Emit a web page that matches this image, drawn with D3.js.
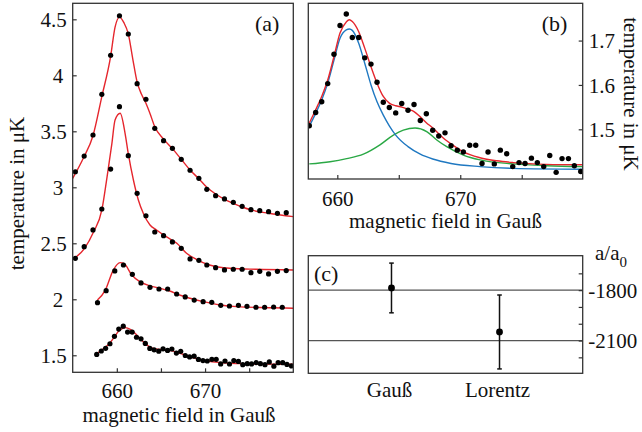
<!DOCTYPE html>
<html><head><meta charset="utf-8">
<script src="https://cdn.jsdelivr.net/npm/d3@7"></script>
<style>
html,body{margin:0;padding:0;background:#fff;}
svg text{font-family:"Liberation Serif","Times New Roman",serif;fill:#111;}
</style></head><body>
<svg id="chart" width="642" height="432"></svg>
<script>
// ---------- Panel (a): measured points ----------
const fieldTop = [655.3,656.3,657.3,658.3,659.3,660.3,661.3,662.3,663.3,664.3,665.3,666.3,667.3,668.3,669.3,670.2,671.2,672.2,673.2,674.2,675.2,676.2,677.2,678.2,679.2];
const tempTop  = [3.139,3.279,3.467,3.830,4.179,4.532,4.369,3.925,3.786,3.527,3.416,3.348,3.250,3.152,3.080,2.982,2.925,2.896,2.866,2.830,2.800,2.791,2.782,2.768,2.773];
const tempSecond = [2.366,2.470,2.619,2.806,3.163,3.720,3.282,2.946,2.746,2.601,2.568,2.512,2.455,2.360,2.348,2.306,2.282,2.262,2.268,2.268,2.238,2.250,2.226,2.250,2.256];
const fieldThird = [657.81,658.79,659.77,660.75,661.76,662.74,663.76,664.78,665.76,666.78,667.75,668.77,669.78,670.76,671.78,672.76,673.78,674.75,675.77,676.75,677.77,678.75];
const tempThird  = [1.970,2.077,2.253,2.306,2.223,2.146,2.107,2.092,2.092,2.047,2.021,1.993,1.979,1.973,1.946,1.940,1.946,1.937,1.929,1.929,1.931,1.929];
// bottom series (also shown enlarged in panel b)
const fieldLow = [657.72,658.24,658.73,659.22,659.73,660.22,660.73,661.22,661.74,662.23,662.74,663.23,663.74,664.23,664.75,665.24,665.75,666.24,666.75,667.24,667.76,668.25,668.76,669.25,669.76,670.25,670.77,671.26,671.77,672.26,672.77,673.26,673.78,674.27,674.78,675.27,675.79,676.27,676.79,677.28,677.80,678.28,678.80,679.28,679.80];
const tempLow  = [1.508,1.538,1.562,1.603,1.669,1.734,1.760,1.707,1.707,1.661,1.647,1.606,1.561,1.549,1.537,1.558,1.543,1.556,1.520,1.535,1.498,1.485,1.492,1.463,1.453,1.449,1.464,1.464,1.423,1.449,1.422,1.453,1.445,1.416,1.425,1.423,1.435,1.425,1.416,1.441,1.403,1.434,1.434,1.418,1.405];

// ---------- fitted curves ----------
const fitTopX = [655.0,656.2,657.3,658.3,659.3,659.8,660.3,660.8,661.3,661.8,662.3,662.8,663.3,663.8,664.3,665.3,666.3,667.3,668.3,669.3,670.2,671.2,672.2,673.2,674.2,675.2,677.2,680.0];
const fitTopY = [3.08,3.26,3.46,3.81,4.17,4.43,4.52,4.47,4.37,4.15,3.94,3.83,3.75,3.65,3.54,3.43,3.345,3.25,3.154,3.076,3.0,2.94,2.893,2.856,2.824,2.798,2.768,2.738];
const fitSecondX = [655.0,656.3,657.36,658.31,658.87,659.44,659.8,660.38,660.94,661.3,661.88,662.44,663.0,663.76,664.5,665.6,666.8,667.9,669.0,670.5,672.8,675.8,680.0];
const fitSecondY = [2.357,2.45,2.60,2.80,3.08,3.39,3.60,3.661,3.48,3.30,3.065,2.887,2.768,2.663,2.619,2.559,2.50,2.411,2.357,2.306,2.277,2.268,2.262];
const fitThirdX = [657.8,658.7,659.6,660.37,660.8,661.7,662.6,663.8,664.9,666.0,667.1,668.3,669.8,671.7,673.6,677.3,680.0];
const fitThirdY = [1.993,2.082,2.261,2.327,2.32,2.217,2.157,2.119,2.098,2.074,2.038,2.009,1.979,1.949,1.934,1.925,1.920];
const fitLowX = [657.72,658.24,658.73,659.22,659.73,660.22,660.73,660.98,661.22,661.74,662.23,662.74,663.23,663.74,664.23,664.75,665.24,665.75,666.24,666.75,667.24,667.76,668.25,668.76,669.25,670.25,671.6,672.97,674.3,677.0,679.96];
const fitLowY = [1.514,1.544,1.574,1.611,1.664,1.717,1.742,1.747,1.743,1.720,1.683,1.641,1.604,1.574,1.559,1.553,1.550,1.545,1.540,1.528,1.515,1.503,1.490,1.477,1.467,1.449,1.436,1.429,1.425,1.421,1.420];
const peak1X = [657.72,658.24,658.73,659.22,659.73,660.22,660.73,660.98,661.22,661.74,662.23,662.74,663.23,663.74,664.23,664.75,665.75,666.75,667.76,669.25,671.6,674.3,679.96];
const peak1Y = [1.507,1.536,1.566,1.604,1.656,1.705,1.724,1.726,1.723,1.694,1.649,1.600,1.562,1.532,1.508,1.487,1.461,1.444,1.433,1.423,1.416,1.412,1.410];
const peak2X = [657.72,659.41,660.76,662.12,663.47,664.56,665.37,666.32,667.27,668.09,668.90,670.25,671.61,674.32,677.04,679.96];
const peak2Y = [1.422,1.427,1.434,1.444,1.465,1.487,1.498,1.503,1.495,1.476,1.461,1.442,1.431,1.422,1.418,1.416];

// ---------- ticks ----------
const fieldTicks = [660,665,670,675];
const fieldLabels = [660,670];
const tempTicksA = [1.5,2,2.5,3,3.5,4,4.5];
const tempTicksB = [1.5,1.6,1.7];

// ---------- Panel (c) ----------
const fitModels = ["Gauß","Lorentz"];
const scatLen = [-1787,-2049];
const scatErr = [148,220];
const scatTicks = [-1700,-1800,-1900,-2000,-2100,-2200];
const scatLabels = [-1800,-2100];
const refLines = [-1800,-2100];

const RED = "#e5262d", BLUE = "#1f78c1", GREEN = "#2aa845", FRAME = "#333";
const FS = 21;
const svg = d3.select("#chart");
const zip = (a,b) => a.map((v,i)=>[v,b[i]]);

function frame(g, P){
  g.append("rect").attr("x",P.l).attr("y",P.t).attr("width",P.r-P.l).attr("height",P.b-P.t)
   .attr("fill","none").attr("stroke",FRAME).attr("stroke-width",1.3);
}
function clip(id,P){
  svg.append("clipPath").attr("id",id).append("rect")
    .attr("x",P.l).attr("y",P.t).attr("width",P.r-P.l).attr("height",P.b-P.t);
}
function styleAxis(g){
  g.select(".domain").remove();
  g.selectAll(".tick line").attr("stroke",FRAME).attr("stroke-width",1.2);
  g.selectAll("text").attr("font-size",FS).attr("font-family",'"Liberation Serif",serif').attr("fill","#111");
}

// ===== Panel (a) =====
const A = {l:72.7, r:293.3, t:3.3, b:372.3};
const xA = d3.scaleLinear().domain([655,680]).range([A.l,A.r]);
const yA = d3.scaleLinear().domain([1.348,4.643]).range([A.b,A.t]);
clip("clipA",A);
const gA = svg.append("g");
const lineA = d3.line().x(d=>xA(d[0])).y(d=>yA(d[1])).curve(d3.curveMonotoneX);
const pA = gA.append("g").attr("clip-path","url(#clipA)");
[[fitTopX,fitTopY],[fitSecondX,fitSecondY],[fitThirdX,fitThirdY],[fitLowX,fitLowY]].forEach(([x,y])=>{
  pA.append("path").attr("d",lineA(zip(x,y))).attr("fill","none").attr("stroke",RED).attr("stroke-width",1.4);
});
[[fieldTop,tempTop],[fieldTop,tempSecond],[fieldThird,tempThird],[fieldLow,tempLow]].forEach(([x,y])=>{
  pA.append("g").selectAll("circle").data(zip(x,y)).join("circle")
    .attr("cx",d=>xA(d[0])).attr("cy",d=>yA(d[1])).attr("r",2.6).attr("fill","#000");
});
frame(gA,A);
const axAx = gA.append("g").attr("transform",`translate(0,${A.b})`)
  .call(d3.axisBottom(xA).tickValues(fieldTicks).tickSize(-4).tickFormat(d=>fieldLabels.includes(d)?d:""));
styleAxis(axAx);
axAx.selectAll("text").attr("y",26).attr("dy",null);
const axAy = gA.append("g").attr("transform",`translate(${A.l},0)`)
  .call(d3.axisLeft(yA).tickValues(tempTicksA).tickSize(-4).tickFormat(d=>String(d)));
styleAxis(axAy);
axAy.selectAll("text").attr("x",d=>Number.isInteger(d)?-9.5:-6).attr("dy","0.34em");
gA.append("text").attr("x",179).attr("y",421.7).attr("text-anchor","middle").attr("font-size",FS).text("magnetic field in Gauß");
gA.append("text").attr("transform","translate(24,193.5) rotate(-90)").attr("text-anchor","middle").attr("font-size",FS).text("temperature in μK");
gA.append("text").attr("x",255).attr("y",31).attr("font-size",22).text("(a)");

// ===== Panel (b) =====
const B = {l:308.3, r:582.7, t:3.3, b:179};
const xB = d3.scaleLinear().domain([657.64,679.96]).range([B.l,B.r]);
const yB = d3.scaleLinear().domain([1.388,1.784]).range([B.b,B.t]);
clip("clipB",B);
const gB = svg.append("g");
const lineB = d3.line().x(d=>xB(d[0])).y(d=>yB(d[1])).curve(d3.curveMonotoneX);
const pB = gB.append("g").attr("clip-path","url(#clipB)");
pB.append("path").attr("d",lineB(zip(peak2X,peak2Y))).attr("fill","none").attr("stroke",GREEN).attr("stroke-width",1.4);
pB.append("path").attr("d",lineB(zip(peak1X,peak1Y))).attr("fill","none").attr("stroke",BLUE).attr("stroke-width",1.4);
pB.append("path").attr("d",lineB(zip(fitLowX,fitLowY))).attr("fill","none").attr("stroke",RED).attr("stroke-width",1.4);
pB.append("g").selectAll("circle").data(zip(fieldLow,tempLow)).join("circle")
  .attr("cx",d=>xB(d[0])).attr("cy",d=>yB(d[1])).attr("r",2.7).attr("fill","#000");
frame(gB,B);
const axBx = gB.append("g").attr("transform",`translate(0,${B.b})`)
  .call(d3.axisBottom(xB).tickValues(fieldTicks).tickSize(-4).tickFormat(d=>fieldLabels.includes(d)?d:""));
styleAxis(axBx);
axBx.selectAll("text").attr("y",26.5).attr("dy",null);
const axBy = gB.append("g").attr("transform",`translate(${B.r},0)`)
  .call(d3.axisRight(yB).tickValues(tempTicksB).tickSize(-4).tickFormat(d3.format(".1f")));
styleAxis(axBy);
axBy.selectAll("text").attr("x",6).attr("dy","0.34em");
gB.append("text").attr("x",445.5).attr("y",228).attr("text-anchor","middle").attr("font-size",FS).text("magnetic field in Gauß");
gB.append("text").attr("transform","translate(623.5,94) rotate(90)").attr("text-anchor","middle").attr("font-size",FS).text("temperature in μK");
gB.append("text").attr("x",541.7).attr("y",31).attr("font-size",22).text("(b)");

// ===== Panel (c) =====
const C = {l:308.3, r:582.7, t:255.7, b:373.3};
const xC = d3.scalePoint().domain(fitModels).range([C.l,C.r]).padding(0.77);
const yC = d3.scaleLinear().domain([-2295,-1595]).range([C.b,C.t]);
const gC = svg.append("g");
gC.selectAll("line.ref").data(refLines).join("line").attr("class","ref")
  .attr("x1",C.l).attr("x2",C.r).attr("y1",d=>yC(d)).attr("y2",d=>yC(d))
  .attr("stroke","#555").attr("stroke-width",1.3);
const pts = fitModels.map((m,i)=>({m, v:scatLen[i], e:scatErr[i]}));
const eb = gC.append("g").selectAll("g").data(pts).join("g");
eb.append("line").attr("x1",d=>xC(d.m)).attr("x2",d=>xC(d.m)).attr("y1",d=>yC(d.v+d.e)).attr("y2",d=>yC(d.v-d.e)).attr("stroke","#111").attr("stroke-width",1.5);
eb.append("line").attr("x1",d=>xC(d.m)-2.3).attr("x2",d=>xC(d.m)+2.3).attr("y1",d=>yC(d.v+d.e)).attr("y2",d=>yC(d.v+d.e)).attr("stroke","#111").attr("stroke-width",1.5);
eb.append("line").attr("x1",d=>xC(d.m)-2.3).attr("x2",d=>xC(d.m)+2.3).attr("y1",d=>yC(d.v-d.e)).attr("y2",d=>yC(d.v-d.e)).attr("stroke","#111").attr("stroke-width",1.5);
eb.append("circle").attr("cx",d=>xC(d.m)).attr("cy",d=>yC(d.v)).attr("r",3.4).attr("fill","#000");
frame(gC,C);
const axCy = gC.append("g").attr("transform",`translate(${C.r},0)`)
  .call(d3.axisRight(yC).tickValues(scatTicks).tickSize(-4).tickFormat(d=>scatLabels.includes(d)?"-"+Math.abs(d):""));
styleAxis(axCy);
axCy.selectAll("text").attr("x",5.5).attr("dy","0.34em");
const axCx = gC.append("g").attr("transform",`translate(0,${C.b})`)
  .call(d3.axisBottom(xC).tickSize(0));
styleAxis(axCx);
axCx.selectAll("text").attr("y",23.7).attr("dy",null).attr("dx",-2.5);
const aLab = gC.append("text").attr("x",595).attr("y",260).attr("font-size",FS);
aLab.append("tspan").text("a/a");
aLab.append("tspan").attr("font-size",15).attr("dy",6.5).text("0");
gC.append("text").attr("x",314).attr("y",281).attr("font-size",22).text("(c)");
</script>
</body></html>
